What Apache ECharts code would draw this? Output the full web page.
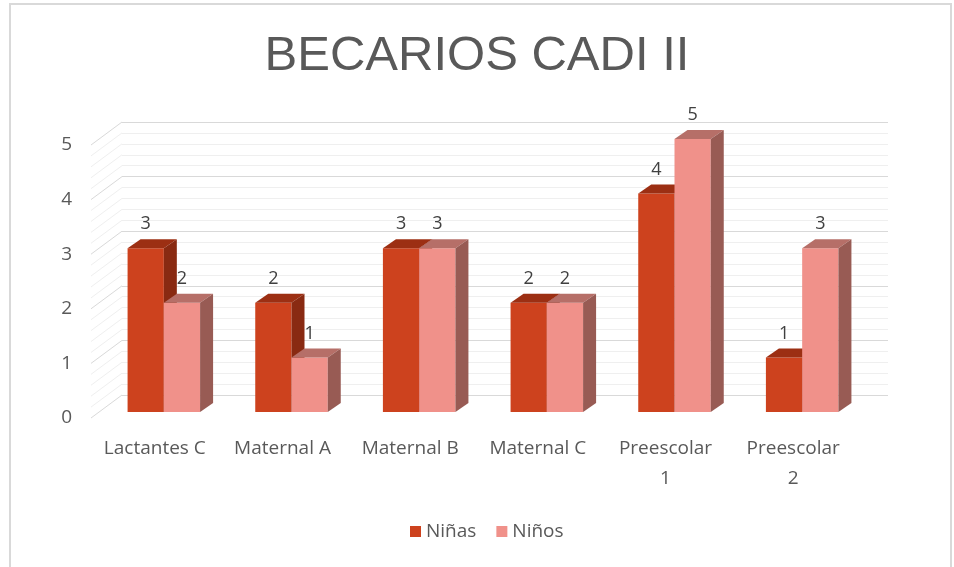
<!DOCTYPE html>
<html>
<head>
<meta charset="utf-8">
<script src="https://cdn.jsdelivr.net/npm/echarts@6/dist/echarts.min.js"></script>
<style>
  html, body { margin: 0; padding: 0; background: #fff; }
  #chart { width: 954px; height: 567px; }
</style>
</head>
<body>
<div id="chart"></div>
<script>
const categories = ['Lactantes C', 'Maternal A', 'Maternal B', 'Maternal C', 'Preescolar 1', 'Preescolar 2']
const ninas = [3, 2, 3, 2, 4, 1]
const ninos = [2, 1, 3, 2, 5, 3]
const yTicks = [0, 1, 2, 3, 4, 5]
const wallLines = [0, 0.2, 0.4, 0.6, 0.8, 1, 1.2, 1.4, 1.6, 1.8, 2, 2.2, 2.4, 2.6, 2.8, 3,
    3.2, 3.4, 3.6, 3.8, 4, 4.2, 4.4, 4.6, 4.8, 5]

const textColor = '#595959'
const font = 'Open Sans'

const colors = {
    ninas: { front: '#CD421E', top: '#9C2F13', side: '#892A12' },
    ninos: { front: '#F0918A', top: '#B66F68', side: '#985B54' }
}

let myChart = echarts.init(document.getElementById('chart'))

// one 3d-looking bar: front face, top face, right side and value text
const barRenderer = (side, c) => (params, api) => {
    const cat = api.value(0)
    const val = api.value(1)
    const base = api.coord([cat, 0])
    const top = api.coord([cat, val])
    const w = api.size([1, 0])[0] * 0.284
    const x0 = side === 0 ? base[0] - w : base[0]
    const x1 = x0 + w
    const y0 = base[1]
    const y1 = top[1]
    const dx = 13
    const dy = -9
    return {
        type: 'group',
        children: [
            { type: 'rect', shape: { x: x0, y: y1, width: w, height: y0 - y1 }, style: { fill: c.front } },
            { type: 'polygon', shape: { points: [[x0, y1], [x1, y1], [x1 + dx, y1 + dy], [x0 + dx, y1 + dy]] }, style: { fill: c.top } },
            { type: 'polygon', shape: { points: [[x1, y1], [x1 + dx, y1 + dy], [x1 + dx, y0 + dy], [x1, y0]] }, style: { fill: c.side } },
            {
                type: 'text',
                style: {
                    x: x0 + w / 2, y: y1 - 24, text: String(val),
                    fill: '#404040', font: '18px "' + font + '"',
                    align: 'center', verticalAlign: 'middle'
                }
            }
        ]
    }
}

// diagonal lines of the left wall
const wallRenderer = (params, api) => {
    const v = api.value(1)
    const p = api.coord([0, v])
    const x = params.coordSys.x
    const major = yTicks.indexOf(v) >= 0
    return {
        type: 'line',
        shape: { x1: x, y1: p[1], x2: x + 31, y2: p[1] - 23 },
        style: { stroke: major ? '#D9D9D9' : '#EFEFEF', lineWidth: 1 }
    }
}

const option = {
    animation: false,
    backgroundColor: '#fff',
    title: {
        text: 'BECARIOS CADI II',
        left: 'center',
        top: 27,
        textStyle: { fontFamily: 'Liberation Sans', fontSize: 49, fontWeight: 'normal', color: textColor }
    },
    legend: {
        left: 405,
        top: 517,
        icon: 'rect',
        itemWidth: 11,
        itemHeight: 11,
        itemGap: 20,
        textStyle: { fontFamily: font, fontSize: 19, color: textColor },
        data: ['Niñas', 'Niños']
    },
    graphic: [{
        type: 'rect',
        shape: { x: 10, y: 4, width: 941, height: 620 },
        style: { fill: 'none', stroke: '#D9D9D9', lineWidth: 2 },
        silent: true
    }],
    grid: [
        { left: 122, right: 66, top: 122, bottom: 172 },
        { left: 100, right: 88, top: 139, bottom: 155 },
        { left: 91, right: 97, top: 145, bottom: 149 }
    ],
    xAxis: [
        { type: 'category', gridIndex: 0, data: categories, show: false },
        { type: 'category', gridIndex: 1, data: categories, show: false },
        {
            type: 'category', gridIndex: 2, data: categories,
            axisLine: { show: false }, axisTick: { show: false },
            axisLabel: {
                margin: 16, fontFamily: font, fontSize: 19, color: textColor, lineHeight: 30,
                interval: 0,
                formatter: v => v.replace(/^(Preescolar) /, '$1\n')
            }
        }
    ],
    yAxis: [
        {
            type: 'value', gridIndex: 0, min: 0, max: 5, interval: 1,
            axisLine: { show: false }, axisTick: { show: false }, axisLabel: { show: false },
            splitLine: { lineStyle: { color: '#D9D9D9' } },
            minorTick: { show: false, splitNumber: 5 },
            minorSplitLine: { show: true, lineStyle: { color: '#EFEFEF' } }
        },
        {
            type: 'value', gridIndex: 1, min: 0, max: 5, interval: 1, show: false
        },
        {
            type: 'value', gridIndex: 2, min: 0, max: 5, interval: 1,
            axisLine: { show: false }, axisTick: { show: false }, splitLine: { show: false },
            axisLabel: { margin: 19, fontFamily: font, fontSize: 19, color: textColor }
        }
    ],
    series: [
        {
            type: 'custom',
            name: 'wall',
            xAxisIndex: 2, yAxisIndex: 2,
            renderItem: wallRenderer,
            silent: true,
            data: wallLines.map(v => [0, v])
        },
        {
            type: 'custom',
            name: 'Niñas',
            xAxisIndex: 1, yAxisIndex: 1,
            itemStyle: { color: colors.ninas.front },
            renderItem: barRenderer(0, colors.ninas),
            data: ninas.map((v, i) => [i, v])
        },
        {
            type: 'custom',
            name: 'Niños',
            xAxisIndex: 1, yAxisIndex: 1,
            itemStyle: { color: colors.ninos.front },
            renderItem: barRenderer(1, colors.ninos),
            data: ninos.map((v, i) => [i, v])
        }
    ]
}

myChart.setOption(option)
</script>
</body>
</html>
